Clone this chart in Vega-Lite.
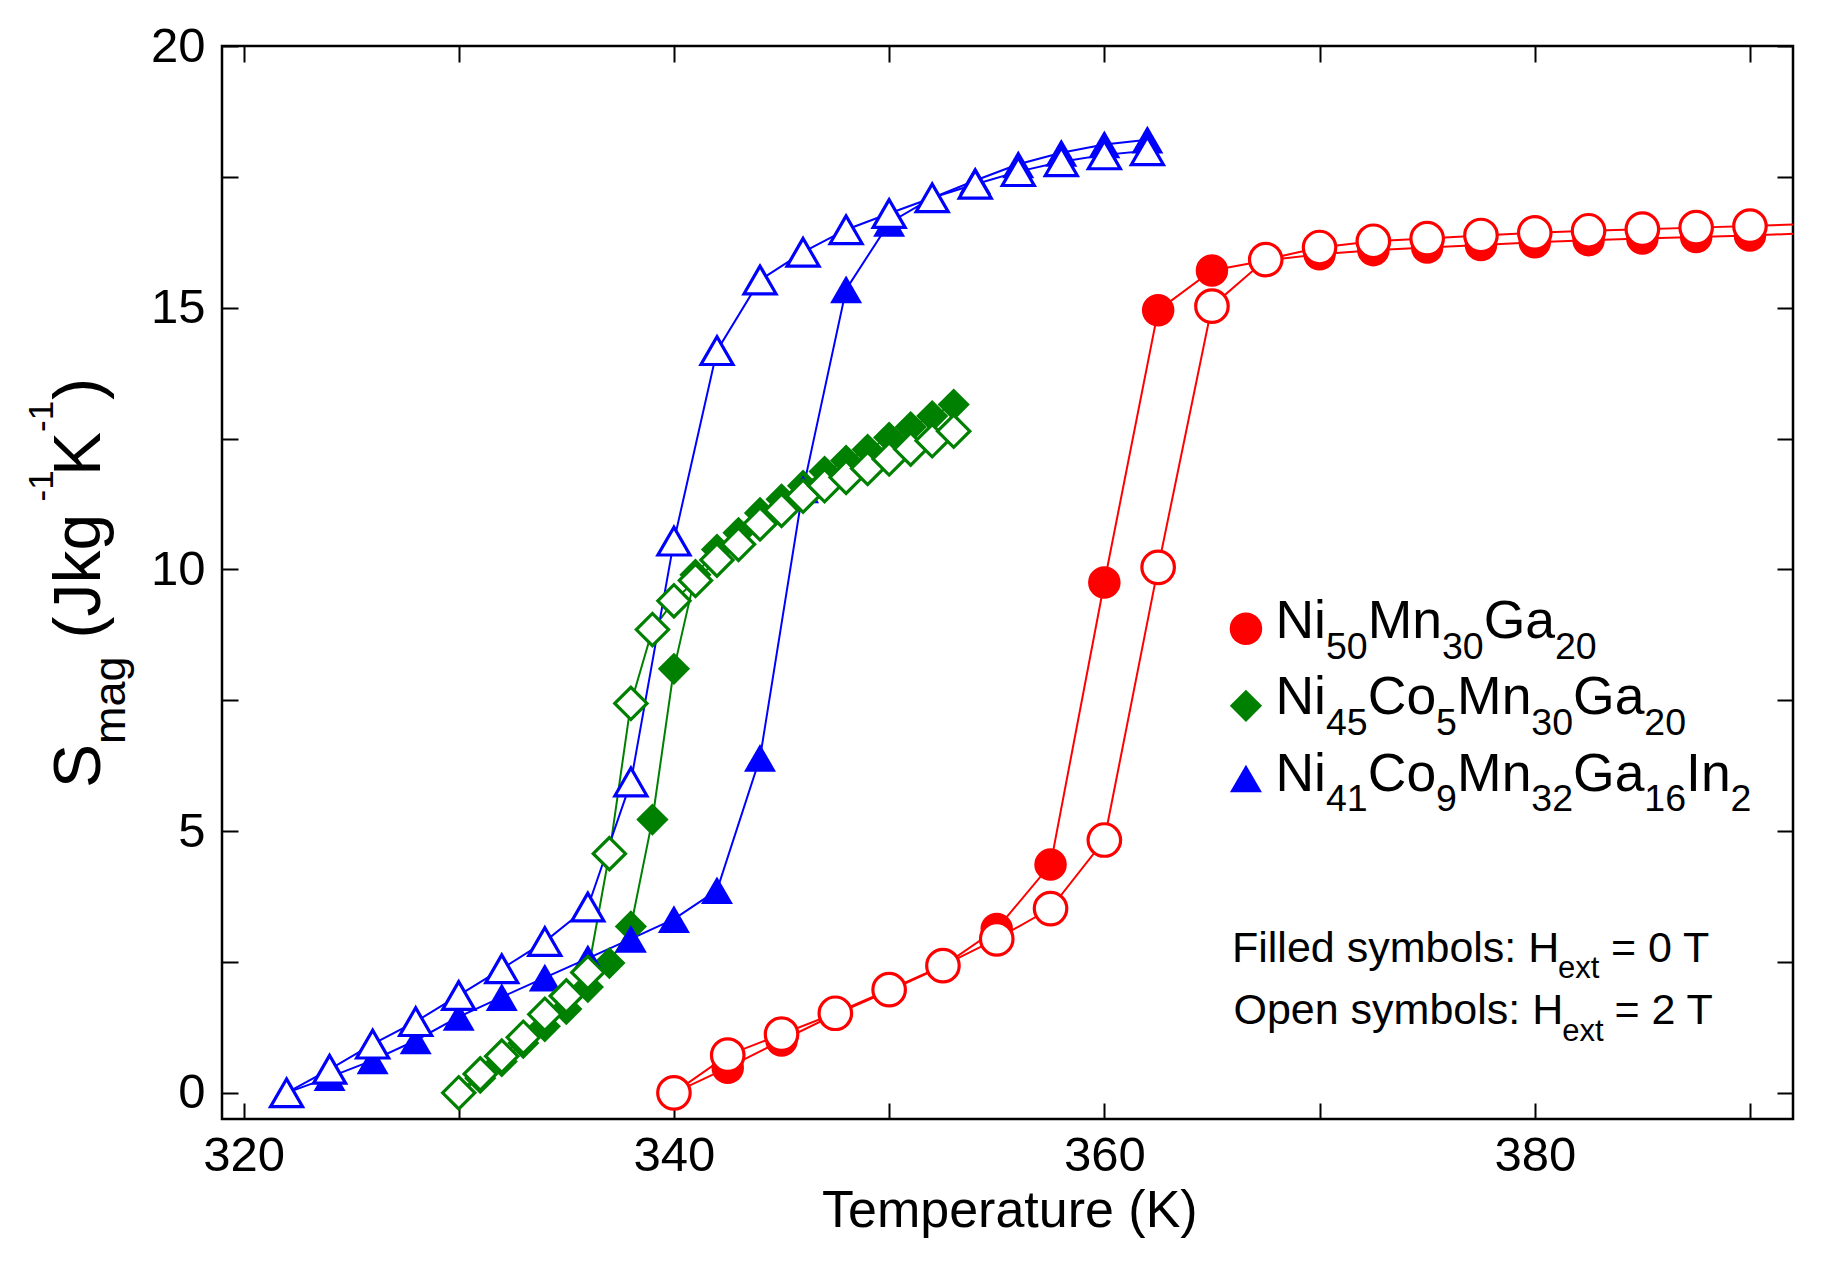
{
  "$schema": "https://vega.github.io/schema/vega-lite/v6.json",
  "width": 1571,
  "height": 1073,
  "autosize": {"type": "none"},
  "padding": {"left": 222, "top": 46, "right": 32, "bottom": 147},
  "background": "white",
  "config": {
    "font": "Liberation Sans",
    "view": {"stroke": "black", "strokeWidth": 2.5}
  },
  "datasets": {
    "curves": [
      {"alloy": "Ni50Mn30Ga20", "H": "0 T", "T": 340, "S": 0.0},
      {"alloy": "Ni50Mn30Ga20", "H": "0 T", "T": 342.5, "S": 0.48},
      {"alloy": "Ni50Mn30Ga20", "H": "0 T", "T": 345, "S": 1.0},
      {"alloy": "Ni50Mn30Ga20", "H": "0 T", "T": 347.5, "S": 1.5},
      {"alloy": "Ni50Mn30Ga20", "H": "0 T", "T": 350, "S": 1.95},
      {"alloy": "Ni50Mn30Ga20", "H": "0 T", "T": 352.5, "S": 2.42},
      {"alloy": "Ni50Mn30Ga20", "H": "0 T", "T": 355, "S": 3.13},
      {"alloy": "Ni50Mn30Ga20", "H": "0 T", "T": 357.5, "S": 4.36},
      {"alloy": "Ni50Mn30Ga20", "H": "0 T", "T": 360, "S": 9.75},
      {"alloy": "Ni50Mn30Ga20", "H": "0 T", "T": 362.5, "S": 14.95},
      {"alloy": "Ni50Mn30Ga20", "H": "0 T", "T": 365, "S": 15.71},
      {"alloy": "Ni50Mn30Ga20", "H": "0 T", "T": 367.5, "S": 15.9},
      {"alloy": "Ni50Mn30Ga20", "H": "0 T", "T": 370, "S": 16.02},
      {"alloy": "Ni50Mn30Ga20", "H": "0 T", "T": 372.5, "S": 16.1},
      {"alloy": "Ni50Mn30Ga20", "H": "0 T", "T": 375, "S": 16.15},
      {"alloy": "Ni50Mn30Ga20", "H": "0 T", "T": 377.5, "S": 16.2},
      {"alloy": "Ni50Mn30Ga20", "H": "0 T", "T": 380, "S": 16.25},
      {"alloy": "Ni50Mn30Ga20", "H": "0 T", "T": 382.5, "S": 16.29},
      {"alloy": "Ni50Mn30Ga20", "H": "0 T", "T": 385, "S": 16.32},
      {"alloy": "Ni50Mn30Ga20", "H": "0 T", "T": 387.5, "S": 16.35},
      {"alloy": "Ni50Mn30Ga20", "H": "0 T", "T": 390, "S": 16.38},
      {"alloy": "Ni50Mn30Ga20", "H": "0 T", "T": 392.5, "S": 16.42},
      {"alloy": "Ni50Mn30Ga20", "H": "2 T", "T": 340, "S": 0.0},
      {"alloy": "Ni50Mn30Ga20", "H": "2 T", "T": 342.5, "S": 0.72},
      {"alloy": "Ni50Mn30Ga20", "H": "2 T", "T": 345, "S": 1.12},
      {"alloy": "Ni50Mn30Ga20", "H": "2 T", "T": 347.5, "S": 1.52},
      {"alloy": "Ni50Mn30Ga20", "H": "2 T", "T": 350, "S": 1.97},
      {"alloy": "Ni50Mn30Ga20", "H": "2 T", "T": 352.5, "S": 2.43},
      {"alloy": "Ni50Mn30Ga20", "H": "2 T", "T": 355, "S": 2.94},
      {"alloy": "Ni50Mn30Ga20", "H": "2 T", "T": 357.5, "S": 3.52},
      {"alloy": "Ni50Mn30Ga20", "H": "2 T", "T": 360, "S": 4.83},
      {"alloy": "Ni50Mn30Ga20", "H": "2 T", "T": 362.5, "S": 10.04},
      {"alloy": "Ni50Mn30Ga20", "H": "2 T", "T": 365, "S": 15.03},
      {"alloy": "Ni50Mn30Ga20", "H": "2 T", "T": 367.5, "S": 15.92},
      {"alloy": "Ni50Mn30Ga20", "H": "2 T", "T": 370, "S": 16.15},
      {"alloy": "Ni50Mn30Ga20", "H": "2 T", "T": 372.5, "S": 16.27},
      {"alloy": "Ni50Mn30Ga20", "H": "2 T", "T": 375, "S": 16.32},
      {"alloy": "Ni50Mn30Ga20", "H": "2 T", "T": 377.5, "S": 16.38},
      {"alloy": "Ni50Mn30Ga20", "H": "2 T", "T": 380, "S": 16.43},
      {"alloy": "Ni50Mn30Ga20", "H": "2 T", "T": 382.5, "S": 16.47},
      {"alloy": "Ni50Mn30Ga20", "H": "2 T", "T": 385, "S": 16.5},
      {"alloy": "Ni50Mn30Ga20", "H": "2 T", "T": 387.5, "S": 16.53},
      {"alloy": "Ni50Mn30Ga20", "H": "2 T", "T": 390, "S": 16.56},
      {"alloy": "Ni50Mn30Ga20", "H": "2 T", "T": 392.5, "S": 16.6},
      {"alloy": "Ni45Co5Mn30Ga20", "H": "0 T", "T": 330, "S": 0.0},
      {"alloy": "Ni45Co5Mn30Ga20", "H": "0 T", "T": 331, "S": 0.28},
      {"alloy": "Ni45Co5Mn30Ga20", "H": "0 T", "T": 332, "S": 0.6},
      {"alloy": "Ni45Co5Mn30Ga20", "H": "0 T", "T": 333, "S": 0.95},
      {"alloy": "Ni45Co5Mn30Ga20", "H": "0 T", "T": 334, "S": 1.27},
      {"alloy": "Ni45Co5Mn30Ga20", "H": "0 T", "T": 335, "S": 1.6},
      {"alloy": "Ni45Co5Mn30Ga20", "H": "0 T", "T": 336, "S": 2.02},
      {"alloy": "Ni45Co5Mn30Ga20", "H": "0 T", "T": 337, "S": 2.48},
      {"alloy": "Ni45Co5Mn30Ga20", "H": "0 T", "T": 338, "S": 3.18},
      {"alloy": "Ni45Co5Mn30Ga20", "H": "0 T", "T": 339, "S": 5.22},
      {"alloy": "Ni45Co5Mn30Ga20", "H": "0 T", "T": 340, "S": 8.1},
      {"alloy": "Ni45Co5Mn30Ga20", "H": "0 T", "T": 341, "S": 9.9},
      {"alloy": "Ni45Co5Mn30Ga20", "H": "0 T", "T": 342, "S": 10.38},
      {"alloy": "Ni45Co5Mn30Ga20", "H": "0 T", "T": 343, "S": 10.7},
      {"alloy": "Ni45Co5Mn30Ga20", "H": "0 T", "T": 344, "S": 11.08},
      {"alloy": "Ni45Co5Mn30Ga20", "H": "0 T", "T": 345, "S": 11.34},
      {"alloy": "Ni45Co5Mn30Ga20", "H": "0 T", "T": 346, "S": 11.6},
      {"alloy": "Ni45Co5Mn30Ga20", "H": "0 T", "T": 347, "S": 11.87},
      {"alloy": "Ni45Co5Mn30Ga20", "H": "0 T", "T": 348, "S": 12.08},
      {"alloy": "Ni45Co5Mn30Ga20", "H": "0 T", "T": 349, "S": 12.29},
      {"alloy": "Ni45Co5Mn30Ga20", "H": "0 T", "T": 350, "S": 12.52},
      {"alloy": "Ni45Co5Mn30Ga20", "H": "0 T", "T": 351, "S": 12.72},
      {"alloy": "Ni45Co5Mn30Ga20", "H": "0 T", "T": 352, "S": 12.93},
      {"alloy": "Ni45Co5Mn30Ga20", "H": "0 T", "T": 353, "S": 13.15},
      {"alloy": "Ni45Co5Mn30Ga20", "H": "2 T", "T": 330, "S": 0.0},
      {"alloy": "Ni45Co5Mn30Ga20", "H": "2 T", "T": 331, "S": 0.36},
      {"alloy": "Ni45Co5Mn30Ga20", "H": "2 T", "T": 332, "S": 0.7},
      {"alloy": "Ni45Co5Mn30Ga20", "H": "2 T", "T": 333, "S": 1.06},
      {"alloy": "Ni45Co5Mn30Ga20", "H": "2 T", "T": 334, "S": 1.5},
      {"alloy": "Ni45Co5Mn30Ga20", "H": "2 T", "T": 335, "S": 1.85},
      {"alloy": "Ni45Co5Mn30Ga20", "H": "2 T", "T": 336, "S": 2.3},
      {"alloy": "Ni45Co5Mn30Ga20", "H": "2 T", "T": 337, "S": 4.57},
      {"alloy": "Ni45Co5Mn30Ga20", "H": "2 T", "T": 338, "S": 7.44},
      {"alloy": "Ni45Co5Mn30Ga20", "H": "2 T", "T": 339, "S": 8.85},
      {"alloy": "Ni45Co5Mn30Ga20", "H": "2 T", "T": 340, "S": 9.4},
      {"alloy": "Ni45Co5Mn30Ga20", "H": "2 T", "T": 341, "S": 9.79},
      {"alloy": "Ni45Co5Mn30Ga20", "H": "2 T", "T": 342, "S": 10.18},
      {"alloy": "Ni45Co5Mn30Ga20", "H": "2 T", "T": 343, "S": 10.48},
      {"alloy": "Ni45Co5Mn30Ga20", "H": "2 T", "T": 344, "S": 10.87},
      {"alloy": "Ni45Co5Mn30Ga20", "H": "2 T", "T": 345, "S": 11.13},
      {"alloy": "Ni45Co5Mn30Ga20", "H": "2 T", "T": 346, "S": 11.4},
      {"alloy": "Ni45Co5Mn30Ga20", "H": "2 T", "T": 347, "S": 11.6},
      {"alloy": "Ni45Co5Mn30Ga20", "H": "2 T", "T": 348, "S": 11.76},
      {"alloy": "Ni45Co5Mn30Ga20", "H": "2 T", "T": 349, "S": 11.93},
      {"alloy": "Ni45Co5Mn30Ga20", "H": "2 T", "T": 350, "S": 12.11},
      {"alloy": "Ni45Co5Mn30Ga20", "H": "2 T", "T": 351, "S": 12.3},
      {"alloy": "Ni45Co5Mn30Ga20", "H": "2 T", "T": 352, "S": 12.46},
      {"alloy": "Ni45Co5Mn30Ga20", "H": "2 T", "T": 353, "S": 12.64},
      {"alloy": "Ni41Co9Mn32Ga16In2", "H": "0 T", "T": 322, "S": 0.0},
      {"alloy": "Ni41Co9Mn32Ga16In2", "H": "0 T", "T": 324, "S": 0.3},
      {"alloy": "Ni41Co9Mn32Ga16In2", "H": "0 T", "T": 326, "S": 0.62},
      {"alloy": "Ni41Co9Mn32Ga16In2", "H": "0 T", "T": 328, "S": 1.0},
      {"alloy": "Ni41Co9Mn32Ga16In2", "H": "0 T", "T": 330, "S": 1.45},
      {"alloy": "Ni41Co9Mn32Ga16In2", "H": "0 T", "T": 332, "S": 1.83},
      {"alloy": "Ni41Co9Mn32Ga16In2", "H": "0 T", "T": 334, "S": 2.2},
      {"alloy": "Ni41Co9Mn32Ga16In2", "H": "0 T", "T": 336, "S": 2.57},
      {"alloy": "Ni41Co9Mn32Ga16In2", "H": "0 T", "T": 338, "S": 2.94},
      {"alloy": "Ni41Co9Mn32Ga16In2", "H": "0 T", "T": 340, "S": 3.32},
      {"alloy": "Ni41Co9Mn32Ga16In2", "H": "0 T", "T": 342, "S": 3.87},
      {"alloy": "Ni41Co9Mn32Ga16In2", "H": "0 T", "T": 344, "S": 6.4},
      {"alloy": "Ni41Co9Mn32Ga16In2", "H": "0 T", "T": 346, "S": 11.53},
      {"alloy": "Ni41Co9Mn32Ga16In2", "H": "0 T", "T": 348, "S": 15.35},
      {"alloy": "Ni41Co9Mn32Ga16In2", "H": "0 T", "T": 350, "S": 16.62},
      {"alloy": "Ni41Co9Mn32Ga16In2", "H": "0 T", "T": 352, "S": 17.1},
      {"alloy": "Ni41Co9Mn32Ga16In2", "H": "0 T", "T": 354, "S": 17.43},
      {"alloy": "Ni41Co9Mn32Ga16In2", "H": "0 T", "T": 356, "S": 17.74},
      {"alloy": "Ni41Co9Mn32Ga16In2", "H": "0 T", "T": 358, "S": 17.96},
      {"alloy": "Ni41Co9Mn32Ga16In2", "H": "0 T", "T": 360, "S": 18.12},
      {"alloy": "Ni41Co9Mn32Ga16In2", "H": "0 T", "T": 362, "S": 18.21},
      {"alloy": "Ni41Co9Mn32Ga16In2", "H": "2 T", "T": 322, "S": 0.0},
      {"alloy": "Ni41Co9Mn32Ga16In2", "H": "2 T", "T": 324, "S": 0.45},
      {"alloy": "Ni41Co9Mn32Ga16In2", "H": "2 T", "T": 326, "S": 0.93},
      {"alloy": "Ni41Co9Mn32Ga16In2", "H": "2 T", "T": 328, "S": 1.36},
      {"alloy": "Ni41Co9Mn32Ga16In2", "H": "2 T", "T": 330, "S": 1.86},
      {"alloy": "Ni41Co9Mn32Ga16In2", "H": "2 T", "T": 332, "S": 2.37},
      {"alloy": "Ni41Co9Mn32Ga16In2", "H": "2 T", "T": 334, "S": 2.89},
      {"alloy": "Ni41Co9Mn32Ga16In2", "H": "2 T", "T": 336, "S": 3.55},
      {"alloy": "Ni41Co9Mn32Ga16In2", "H": "2 T", "T": 338, "S": 5.94},
      {"alloy": "Ni41Co9Mn32Ga16In2", "H": "2 T", "T": 340, "S": 10.54},
      {"alloy": "Ni41Co9Mn32Ga16In2", "H": "2 T", "T": 342, "S": 14.18},
      {"alloy": "Ni41Co9Mn32Ga16In2", "H": "2 T", "T": 344, "S": 15.53},
      {"alloy": "Ni41Co9Mn32Ga16In2", "H": "2 T", "T": 346, "S": 16.06},
      {"alloy": "Ni41Co9Mn32Ga16In2", "H": "2 T", "T": 348, "S": 16.49},
      {"alloy": "Ni41Co9Mn32Ga16In2", "H": "2 T", "T": 350, "S": 16.8},
      {"alloy": "Ni41Co9Mn32Ga16In2", "H": "2 T", "T": 352, "S": 17.1},
      {"alloy": "Ni41Co9Mn32Ga16In2", "H": "2 T", "T": 354, "S": 17.36},
      {"alloy": "Ni41Co9Mn32Ga16In2", "H": "2 T", "T": 356, "S": 17.6},
      {"alloy": "Ni41Co9Mn32Ga16In2", "H": "2 T", "T": 358, "S": 17.79},
      {"alloy": "Ni41Co9Mn32Ga16In2", "H": "2 T", "T": 360, "S": 17.92},
      {"alloy": "Ni41Co9Mn32Ga16In2", "H": "2 T", "T": 362, "S": 18.0}
    ],
    "legend": [
      {"alloy": "Ni50Mn30Ga20", "T": 366.58, "S": 8.865},
      {"alloy": "Ni45Co5Mn30Ga20", "T": 366.58, "S": 7.394},
      {"alloy": "Ni41Co9Mn32Ga16In2", "T": 366.58, "S": 6.005}
    ],
    "labels": [
      {"role": "leg", "label": "Ni", "T": 367.95, "S": 8.689},
      {"role": "legsub", "label": "50", "T": 370.30, "S": 8.297},
      {"role": "leg", "label": "Mn", "T": 372.24, "S": 8.689},
      {"role": "legsub", "label": "30", "T": 375.69, "S": 8.297},
      {"role": "leg", "label": "Ga", "T": 377.63, "S": 8.689},
      {"role": "legsub", "label": "20", "T": 380.94, "S": 8.297},
      {"role": "leg", "label": "Ni", "T": 367.95, "S": 7.232},
      {"role": "legsub", "label": "45", "T": 370.30, "S": 6.84},
      {"role": "leg", "label": "Co", "T": 372.24, "S": 7.232},
      {"role": "legsub", "label": "5", "T": 375.41, "S": 6.84},
      {"role": "leg", "label": "Mn", "T": 376.39, "S": 7.232},
      {"role": "legsub", "label": "30", "T": 379.84, "S": 6.84},
      {"role": "leg", "label": "Ga", "T": 381.78, "S": 7.232},
      {"role": "legsub", "label": "20", "T": 385.09, "S": 6.84},
      {"role": "leg", "label": "Ni", "T": 367.95, "S": 5.774},
      {"role": "legsub", "label": "41", "T": 370.30, "S": 5.382},
      {"role": "leg", "label": "Co", "T": 372.24, "S": 5.774},
      {"role": "legsub", "label": "9", "T": 375.41, "S": 5.382},
      {"role": "leg", "label": "Mn", "T": 376.39, "S": 5.774},
      {"role": "legsub", "label": "32", "T": 379.84, "S": 5.382},
      {"role": "leg", "label": "Ga", "T": 381.78, "S": 5.774},
      {"role": "legsub", "label": "16", "T": 385.09, "S": 5.382},
      {"role": "leg", "label": "In", "T": 387.03, "S": 5.774},
      {"role": "legsub", "label": "2", "T": 389.10, "S": 5.382},
      {"role": "note", "label": "Filled symbols: H", "T": 365.93, "S": 2.507},
      {"role": "notesub", "label": "ext", "T": 381.08, "S": 2.186},
      {"role": "note", "label": "= 0 T", "T": 383.54, "S": 2.507},
      {"role": "note", "label": "Open symbols: H", "T": 366.0, "S": 1.314},
      {"role": "notesub", "label": "ext", "T": 381.28, "S": 0.993},
      {"role": "note", "label": "= 2 T", "T": 383.70, "S": 1.314},
      {"role": "xtitle", "label": "Temperature (K)", "T": 346.88, "S": -2.558},
      {"role": "ytitle", "label": "S", "T": 313.35, "S": 5.824},
      {"role": "ysub", "label": "mag", "T": 314.51, "S": 6.664},
      {"role": "ytitle", "label": "(Jkg", "T": 313.35, "S": 8.68},
      {"role": "ysup", "label": "-1", "T": 311.17, "S": 11.297},
      {"role": "ytitle", "label": "K", "T": 313.35, "S": 11.784},
      {"role": "ysup", "label": "-1", "T": 311.17, "S": 12.625},
      {"role": "ytitle", "label": ")", "T": 313.35, "S": 13.237}
    ]
  },
  "resolve": {"axis": {"x": "independent", "y": "independent"}},
  "layer": [
    {
      "data": {"name": "curves"},
      "mark": {"type": "line", "strokeWidth": 2, "clip": true},
      "encoding": {
        "x": {
          "field": "T", "type": "quantitative",
          "scale": {"domain": [319, 392], "nice": false, "zero": false},
          "axis": {
            "orient": "bottom", "values": [320, 330, 340, 350, 360, 370, 380, 390],
            "labelExpr": "datum.value % 20 === 0 ? datum.label : ''", "format": "d",
            "tickSize": -16, "tickWidth": 2, "tickColor": "black", "domain": false, "grid": false,
            "labelFontSize": 49, "labelFont": "Liberation Sans", "labelColor": "black",
            "labelPadding": 28, "labelFlush": false, "labelOverlap": false, "title": null
          }
        },
        "y": {
          "field": "S", "type": "quantitative",
          "scale": {"domain": [-0.5, 20], "nice": false, "zero": false},
          "axis": {
            "orient": "left", "values": [0, 2.5, 5, 7.5, 10, 12.5, 15, 17.5, 20],
            "labelExpr": "datum.value % 5 === 0 ? datum.label : ''", "format": "d",
            "tickSize": -16, "tickWidth": 2, "tickColor": "black", "domain": false, "grid": false,
            "labelFontSize": 49, "labelFont": "Liberation Sans", "labelColor": "black",
            "labelPadding": 33, "labelFlush": false, "labelOverlap": false, "title": null
          }
        },
        "color": {
          "field": "alloy", "type": "nominal", "legend": null,
          "scale": {"domain": ["Ni50Mn30Ga20", "Ni45Co5Mn30Ga20", "Ni41Co9Mn32Ga16In2"], "range": ["#ff0000", "#008000", "#0000ff"]}
        },
        "detail": {"field": "H", "type": "nominal"}
      }
    },
    {
      "data": {"name": "curves"},
      "transform": [{"filter": "datum.H === '0 T' && datum.T < 391"}],
      "mark": {"type": "point", "filled": true, "opacity": 1, "strokeWidth": 0},
      "encoding": {
        "x": {
          "field": "T", "type": "quantitative",
          "scale": {"domain": [319, 392], "nice": false, "zero": false},
          "axis": {
            "orient": "top", "values": [320, 330, 340, 350, 360, 370, 380, 390], "labels": false,
            "tickSize": -16, "tickWidth": 2, "tickColor": "black", "domain": false, "grid": false, "title": null
          }
        },
        "y": {
          "field": "S", "type": "quantitative",
          "scale": {"domain": [-0.5, 20], "nice": false, "zero": false},
          "axis": {
            "orient": "right", "values": [0, 2.5, 5, 7.5, 10, 12.5, 15, 17.5, 20], "labels": false,
            "tickSize": -16, "tickWidth": 2, "tickColor": "black", "domain": false, "grid": false, "title": null
          }
        },
        "color": {
          "field": "alloy", "type": "nominal", "legend": null,
          "scale": {"domain": ["Ni50Mn30Ga20", "Ni45Co5Mn30Ga20", "Ni41Co9Mn32Ga16In2"], "range": ["#ff0000", "#008000", "#0000ff"]}
        },
        "shape": {
          "field": "alloy", "type": "nominal", "legend": null,
          "scale": {"domain": ["Ni50Mn30Ga20", "Ni45Co5Mn30Ga20", "Ni41Co9Mn32Ga16In2"], "range": ["circle", "diamond", "triangle-up"]}
        },
        "size": {
          "field": "alloy", "type": "nominal", "legend": null,
          "scale": {"domain": ["Ni50Mn30Ga20", "Ni45Co5Mn30Ga20", "Ni41Co9Mn32Ga16In2"], "range": [1056, 1024, 1109]}
        }
      }
    },
    {
      "data": {"name": "curves"},
      "transform": [{"filter": "datum.H === '2 T' && datum.T < 391"}],
      "mark": {"type": "point", "filled": true, "fill": "white", "opacity": 1, "strokeWidth": 3.2},
      "encoding": {
        "x": {"field": "T", "type": "quantitative", "scale": {"domain": [319, 392], "nice": false, "zero": false}, "axis": null},
        "y": {"field": "S", "type": "quantitative", "scale": {"domain": [-0.5, 20], "nice": false, "zero": false}, "axis": null},
        "stroke": {
          "field": "alloy", "type": "nominal", "legend": null,
          "scale": {"domain": ["Ni50Mn30Ga20", "Ni45Co5Mn30Ga20", "Ni41Co9Mn32Ga16In2"], "range": ["#ff0000", "#008000", "#0000ff"]}
        },
        "shape": {
          "field": "alloy", "type": "nominal", "legend": null,
          "scale": {"domain": ["Ni50Mn30Ga20", "Ni45Co5Mn30Ga20", "Ni41Co9Mn32Ga16In2"], "range": ["circle", "diamond", "triangle-up"]}
        },
        "size": {
          "field": "alloy", "type": "nominal", "legend": null,
          "scale": {"domain": ["Ni50Mn30Ga20", "Ni45Co5Mn30Ga20", "Ni41Co9Mn32Ga16In2"], "range": [961, 841, 961]}
        }
      }
    },
    {
      "data": {"name": "legend"},
      "mark": {"type": "point", "filled": true, "opacity": 1, "strokeWidth": 0},
      "encoding": {
        "x": {"field": "T", "type": "quantitative", "scale": {"domain": [319, 392], "nice": false, "zero": false}, "axis": null},
        "y": {"field": "S", "type": "quantitative", "scale": {"domain": [-0.5, 20], "nice": false, "zero": false}, "axis": null},
        "color": {
          "field": "alloy", "type": "nominal", "legend": null,
          "scale": {"domain": ["Ni50Mn30Ga20", "Ni45Co5Mn30Ga20", "Ni41Co9Mn32Ga16In2"], "range": ["#ff0000", "#008000", "#0000ff"]}
        },
        "shape": {
          "field": "alloy", "type": "nominal", "legend": null,
          "scale": {"domain": ["Ni50Mn30Ga20", "Ni45Co5Mn30Ga20", "Ni41Co9Mn32Ga16In2"], "range": ["circle", "diamond", "triangle-up"]}
        },
        "size": {
          "field": "alloy", "type": "nominal", "legend": null,
          "scale": {"domain": ["Ni50Mn30Ga20", "Ni45Co5Mn30Ga20", "Ni41Co9Mn32Ga16In2"], "range": [1024, 1050, 1156]}
        }
      }
    },
    {
      "data": {"name": "labels"},
      "encoding": {
        "x": {"field": "T", "type": "quantitative", "scale": {"domain": [319, 392], "nice": false, "zero": false}, "axis": null},
        "y": {"field": "S", "type": "quantitative", "scale": {"domain": [-0.5, 20], "nice": false, "zero": false}, "axis": null},
        "text": {"field": "label", "type": "nominal"}
      },
      "layer": [
        {
          "transform": [{"filter": "datum.role === 'leg'"}],
          "mark": {"type": "text", "align": "left", "baseline": "alphabetic", "font": "Liberation Sans", "color": "black", "fontSize": 53.5}
        },
        {
          "transform": [{"filter": "datum.role === 'legsub'"}],
          "mark": {"type": "text", "align": "left", "baseline": "alphabetic", "font": "Liberation Sans", "color": "black", "fontSize": 37.5}
        },
        {
          "transform": [{"filter": "datum.role === 'note'"}],
          "mark": {"type": "text", "align": "left", "baseline": "alphabetic", "font": "Liberation Sans", "color": "black", "fontSize": 43}
        },
        {
          "transform": [{"filter": "datum.role === 'notesub'"}],
          "mark": {"type": "text", "align": "left", "baseline": "alphabetic", "font": "Liberation Sans", "color": "black", "fontSize": 31}
        },
        {
          "transform": [{"filter": "datum.role === 'xtitle'"}],
          "mark": {"type": "text", "align": "left", "baseline": "alphabetic", "font": "Liberation Sans", "color": "black", "fontSize": 52}
        },
        {
          "transform": [{"filter": "datum.role === 'ytitle'"}],
          "mark": {"type": "text", "align": "left", "baseline": "alphabetic", "font": "Liberation Sans", "color": "black", "fontSize": 66, "angle": 270}
        },
        {
          "transform": [{"filter": "datum.role === 'ysub'"}],
          "mark": {"type": "text", "align": "left", "baseline": "alphabetic", "font": "Liberation Sans", "color": "black", "fontSize": 45, "angle": 270}
        },
        {
          "transform": [{"filter": "datum.role === 'ysup'"}],
          "mark": {"type": "text", "align": "left", "baseline": "alphabetic", "font": "Liberation Sans", "color": "black", "fontSize": 35, "angle": 270}
        }
      ]
    }
  ]
}
